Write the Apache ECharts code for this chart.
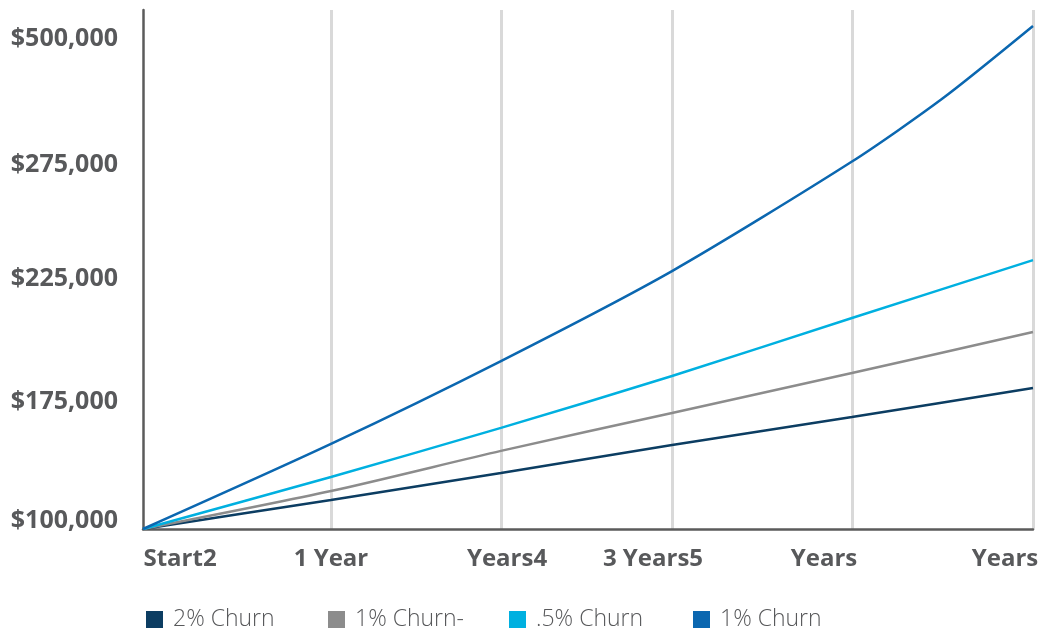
<!DOCTYPE html>
<html>
<head>
<meta charset="utf-8">
<title>Revenue growth by churn rate</title>
<script src="https://cdn.jsdelivr.net/npm/echarts@6/dist/echarts.min.js"></script>
<style>
  html, body { margin: 0; padding: 0; background: #ffffff; }
  #chart { width: 1042px; height: 631px; }
</style>
</head>
<body>
<div id="chart"></div>
<script>
// Time points (years from start) and their x-axis labels
const YEARS = [0, 1, 2, 3, 4, 5];
const X_LABELS = ['Start2', '1 Year', 'Years4', '3 Years5', 'Years', 'Years'];

// Revenue tick values and labels on the y axis
const Y_TICK_VALUES = [100000, 175000, 225000, 275000, 500000];
const Y_LABELS = ['$100,000', '$175,000', '$225,000', '$275,000', '$500,000'];

// Series names
const SERIES_NAMES = ['2% Churn', '1% Churn-', '.5% Churn', '1% Churn'];

// Revenue per year for each churn scenario
const churn2 = [100000, 118300, 135300, 152900, 170600, 183900];
const churn1Dash = [100000, 123900, 149200, 173100, 190000, 206700];
const churnHalf = [100000, 132800, 163700, 188800, 212400, 236800];
const churn1Years = [0, 1, 2, 3, 4, 4.5, 5];
const churn1 = [100000, 153600, 194900, 232000, 295500, 408000, 537500];

// The axes are spaced by tick, not linearly: each tick owns a slot on the axis
const X_SLOTS = [0, 1.056, 2.011, 2.972, 3.983, 5];
const X_LABEL_SLOTS = [0.208, 1.056, 2.045, 2.865, 3.826, 4.843];
const Y_SLOTS = [0, 0.988, 2.008, 2.954, 4.0];
const Y_MAX = 4.307;

// piecewise-linear scale between tick values and slot positions
function piecewise(v, domain, range) {
  let i = 0;
  while (i < domain.length - 2 && v > domain[i + 1]) i++;
  const t = (v - domain[i]) / (domain[i + 1] - domain[i]);
  return range[i] + t * (range[i + 1] - range[i]);
}
const xScale = (year) => piecewise(year, YEARS, X_SLOTS);
const yScale = (dollars) => piecewise(dollars, Y_TICK_VALUES, Y_SLOTS);

function toPoints(years, values) {
  return years.map((yr, i) => [xScale(yr), yScale(values[i])]);
}

function nearestIndex(slots, v) {
  let best = 0;
  for (let i = 1; i < slots.length; i++) {
    if (Math.abs(slots[i] - v) < Math.abs(slots[best] - v)) best = i;
  }
  return best;
}

const COLORS = ['#0c3d62', '#8c8c8c', '#00b0e0', '#0b67b0'];
const FONT = '"Open Sans", "Noto Sans", sans-serif';
const AXIS_GRAY = '#5b5b5b';
const LABEL_GRAY = '#58595b';
const LEGEND_LEFT = [141, 323, 504, 688];

const seriesData = [
  toPoints(YEARS, churn2),
  toPoints(YEARS, churn1Dash),
  toPoints(YEARS, churnHalf),
  toPoints(churn1Years, churn1)
];

const chart = echarts.init(document.getElementById('chart'), null, { renderer: 'canvas' });

chart.setOption({
  animation: false,
  backgroundColor: '#ffffff',
  color: COLORS,
  grid: { left: 143, right: 9, top: 10, bottom: 102, containLabel: false },
  // one legend block per scenario, evenly spaced along the bottom
  legend: SERIES_NAMES.map((name, i) => ({
    left: LEGEND_LEFT[i],
    top: 603,
    itemWidth: 17,
    itemHeight: 17,
    icon: 'rect',
    data: [name],
    textStyle: {
      fontFamily: FONT,
      fontSize: 23,
      fontWeight: 300,
      color: LABEL_GRAY,
      padding: [0, 0, 0, 5]
    }
  })),
  xAxis: {
    type: 'value',
    min: 0,
    max: 5,
    axisLine: { show: true, onZero: false, lineStyle: { color: AXIS_GRAY, width: 2.5 } },
    axisTick: { show: false, customValues: X_SLOTS.slice(1) },
    splitLine: { show: true, lineStyle: { color: '#d9d9d9', width: 3 } },
    axisLabel: {
      customValues: X_LABEL_SLOTS,
      formatter: (v) => X_LABELS[nearestIndex(X_LABEL_SLOTS, v)],
      fontFamily: FONT,
      fontSize: 24,
      fontWeight: 'bold',
      color: LABEL_GRAY,
      margin: 18
    }
  },
  yAxis: {
    type: 'value',
    min: 0,
    max: Y_MAX,
    axisLine: { show: true, onZero: false, lineStyle: { color: AXIS_GRAY, width: 2.5 } },
    axisTick: { show: false, customValues: Y_SLOTS },
    splitLine: { show: false },
    axisLabel: {
      customValues: Y_SLOTS,
      formatter: (v) => Y_LABELS[nearestIndex(Y_SLOTS, v)],
      fontFamily: FONT,
      fontSize: 25,
      fontWeight: 'bold',
      color: LABEL_GRAY,
      verticalAlign: 'bottom',
      lineHeight: 16,
      margin: 25
    }
  },
  series: SERIES_NAMES.map((name, i) => ({
    name,
    type: 'line',
    data: seriesData[i],
    smooth: 0.25,
    showSymbol: false,
    symbol: 'none',
    lineStyle: { width: 2.5, color: COLORS[i] },
    z: 3 + i
  }))
});
</script>
</body>
</html>
